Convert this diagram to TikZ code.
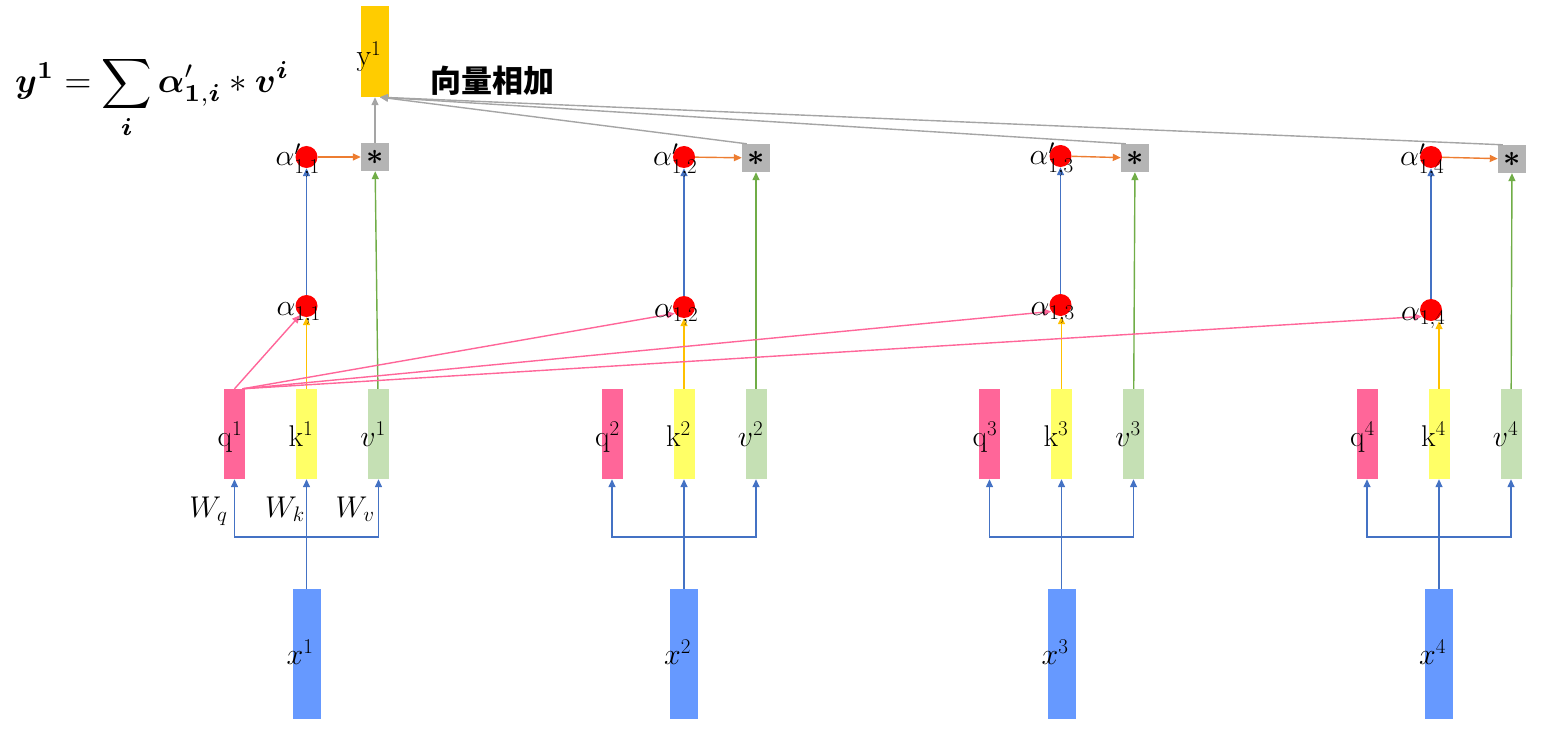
\RequirePackage{fix-cm}
\documentclass[tikz,border=0pt]{standalone}
\usepackage{fontspec}
\usepackage{bm}
\usetikzlibrary{arrows.meta,calc}
\newfontfamily\cjk{Noto Sans CJK SC}
\definecolor{qpink}{HTML}{FF6699}
\definecolor{kyellow}{HTML}{FFFF66}
\definecolor{vgreen}{HTML}{C5E0B4}
\definecolor{xblue}{HTML}{6699FF}
\definecolor{ygold}{HTML}{FFCC00}
\definecolor{sgray}{HTML}{B4B4B4}
\definecolor{ablue}{HTML}{4472C4}
\definecolor{ayellow}{HTML}{FFC000}
\definecolor{agreen}{HTML}{70AD47}
\definecolor{aorange}{HTML}{ED7D31}
\definecolor{agray}{HTML}{A5A5A5}
\definecolor{apink}{HTML}{FF6699}
\begin{document}
\begin{tikzpicture}[x=1pt,y=-1pt,
  bar/.style={inner sep=0pt, minimum width=21pt, minimum height=90pt},
  xbar/.style={fill=xblue, inner sep=0pt, minimum width=28pt, minimum height=130pt},
  dot/.style={circle, fill=red, inner sep=0pt, minimum size=22pt},
  starbox/.style={fill=sgray, inner sep=0pt, minimum size=28pt, font=\fontsize{30}{30}\selectfont},
  lab/.style={font=\fontsize{30}{36}\selectfont, inner sep=0pt},
  arr/.style={line width=1.4pt, -{Triangle[length=8pt,width=7pt]}}
]
\useasboundingbox (0,0) rectangle (1556,738);

% output box
\node[fill=ygold, inner sep=0pt, minimum width=28pt, minimum height=91pt] (y1) at (375,51.5) {};
\node[lab, anchor=base] (y1lab) at (369,66) {$\mathrm{y}^1$};

% formula
\node[inner sep=0pt, anchor=base west] (formula) at (15,93)
  {\scalebox{3.5}{$\displaystyle \bm{y}^{\bm{1}} = \sum_{\bm{i}} \bm{\alpha}'_{\bm{1},\bm{i}} \ast \bm{v}^{\bm{i}}$}};
\node[inner sep=0pt, anchor=base west, font=\fontsize{31}{36}\selectfont\cjk\bfseries] (sumlab) at (430,93) {向量相加};

\foreach \i/\o/\ax/\ay/\bx/\by/\sx/\sy in {
  1/0/306.5/306/306.5/157/375/157,
  2/377.5/684/307/684/157/756/158,
  3/755/1060.5/305/1060.5/156/1135/158,
  4/1132.5/1431/310/1431/157/1512/159}{
  \node[bar, fill=qpink] (q\i) at ({234.5+\o},434) {};
  \node[bar, fill=kyellow] (k\i) at ({306.5+\o},434) {};
  \node[bar, fill=vgreen] (v\i) at ({378.5+\o},434) {};
  \node[xbar] (x\i) at ({306.5+\o},654) {};
  \node[dot] (a\i) at (\ax,\ay) {};
  \node[dot] (b\i) at (\bx,\by) {};
  \node[starbox] (s\i) at (\sx,\sy) {\raisebox{-2pt}{$\bm{\ast}$}};
  \coordinate (j\i) at ({306.5+\o},537);
  % input projections
  \draw[arr, ablue] (x\i) -- (k\i);
  \draw[arr, ablue] (j\i) -| (q\i);
  \draw[arr, ablue] (j\i) -| (v\i);
  % k to alpha
  \draw[arr, ayellow] (k\i.north) -- (k\i |- a\i.south);
  % alpha to alpha'
  \draw[arr, ablue] (a\i) -- (b\i);
  % alpha' to star
  \draw[arr, aorange] (b\i) -- (s\i);
  % v to star
  \draw[arr, agreen] (v\i) -- (s\i);
  % labels
  \node[lab, anchor=base] (ql\i) at ({230+\o},446) {$\mathrm{q}^{\i}$};
  \node[lab, anchor=base] (kl\i) at ({301+\o},446) {$\mathrm{k}^{\i}$};
  \node[lab, anchor=base] (vl\i) at ({373+\o},446) {$v^{\i}$};
  \node[lab, anchor=base] (xl\i) at ({300+\o},664) {$x^{\i}$};
}

% pink query lines
\draw[arr, apink] (q1.north) -- (a1.235);
\foreach \i in {2,3,4}{
  \draw[arr, apink] ([xshift=8pt]q1.north) -- (a\i.215);
}

% gray sum arrows
\draw[arr, agray] (s1) -- (y1);
\foreach \i in {2,3,4}{
  \draw[arr, agray] ([xshift=5pt]s\i.north west) -- ([xshift=5pt]y1.south);
}

% alpha labels (on top)
\foreach \i/\ax/\ay/\bx/\by in {1/306.5/306/306.5/157, 2/684/307/684/157, 3/1060.5/305/1060.5/156, 4/1431/310/1431/157}{
  \node[lab, anchor=base west] (al\i) at ({\ax-30},{\ay+10}) {$\alpha_{1,\i}$};
  \node[lab, anchor=base west] (bl\i) at ({\bx-31},{\by+9}) {$\alpha'_{1,\i}$};
}

% weight labels
\node[lab, anchor=base] (wq) at (208.5,517) {$W_q$};
\node[lab, anchor=base] (wk) at (285,517) {$W_k$};
\node[lab, anchor=base] (wv) at (355,517) {$W_v$};
\end{tikzpicture}
\end{document}
